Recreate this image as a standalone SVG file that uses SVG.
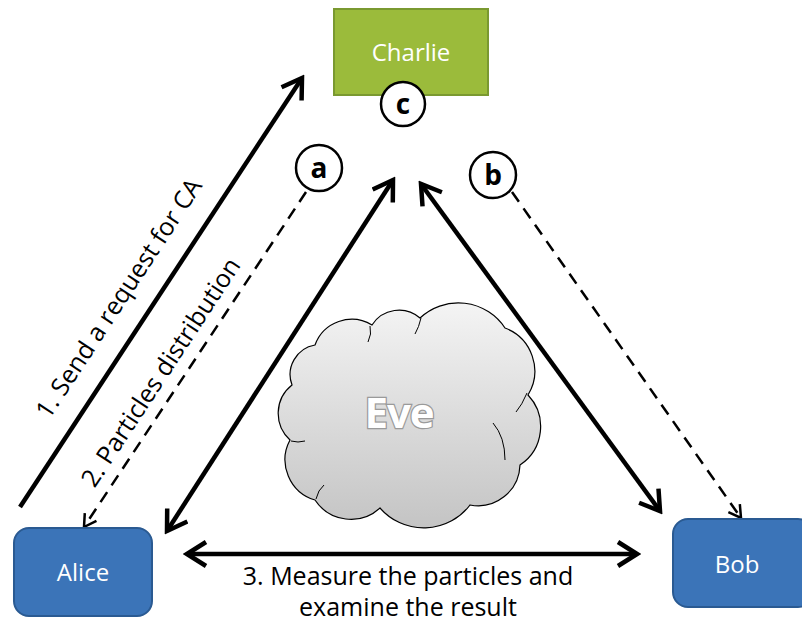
<svg xmlns="http://www.w3.org/2000/svg" width="802" height="625" viewBox="0 0 802 625">
<style>
  .lbl { font-family: "Open Sans", "Liberation Sans", sans-serif; font-size: 25px; fill: #000; }
  .nodetxt { font-family: "Open Sans", "Liberation Sans", sans-serif; font-size: 24px; fill: #fff; text-anchor: middle; }
  .circ { fill: #fff; stroke: #000; stroke-width: 2.5; }
  .ctxt { font-family: "Open Sans", "Liberation Sans", sans-serif; font-size: 28px; font-weight: bold; fill: #000; text-anchor: middle; }
  .solid { stroke: #000; stroke-width: 4.5; fill: none; }
  .dash { stroke: #000; stroke-width: 2.5; fill: none; stroke-dasharray: 12 8; }
</style>
<defs>
  <marker id="ah" markerUnits="userSpaceOnUse" viewBox="0 0 26 28" refX="22" refY="14" markerWidth="26" markerHeight="28" orient="auto-start-reverse">
    <path d="M3,2 L22,14 L3,26" fill="none" stroke="#000" stroke-width="4.5" stroke-dasharray="none"/>
  </marker>
  <marker id="ahd" markerUnits="userSpaceOnUse" viewBox="0 0 16 18" refX="14" refY="9" markerWidth="16" markerHeight="18" orient="auto">
    <path d="M2,2 L14,9 L2,16" fill="none" stroke="#000" stroke-width="2.5" stroke-dasharray="none"/>
  </marker>
  <linearGradient id="cloudg" x1="0" y1="0" x2="0" y2="1">
    <stop offset="0" stop-color="#f4f4f4"/>
    <stop offset="1" stop-color="#c4c4c4"/>
  </linearGradient>
</defs>

<g id="connectors">
  <line class="solid" x1="20" y1="507" x2="302" y2="78" marker-end="url(#ah)"/>
  <line class="dash" x1="306" y1="192" x2="84" y2="527" marker-end="url(#ahd)"/>
  <line class="solid" x1="167" y1="531" x2="393" y2="180" marker-start="url(#ah)" marker-end="url(#ah)"/>
  <line class="solid" x1="421" y1="184" x2="660" y2="511" marker-start="url(#ah)" marker-end="url(#ah)"/>
  <line class="dash" x1="512" y1="192" x2="741" y2="518" marker-end="url(#ahd)"/>
  <line class="solid" x1="187" y1="554" x2="637" y2="554" marker-start="url(#ah)" marker-end="url(#ah)"/>
  <text class="lbl" text-anchor="middle" transform="translate(126,303) rotate(-56.7)">1. Send a request for CA</text>
  <text class="lbl" text-anchor="middle" transform="translate(168,377) rotate(-56.7)">2. Particles distribution</text>
  <text class="lbl" text-anchor="middle" x="408" y="585">3. Measure the particles and</text>
  <text class="lbl" text-anchor="middle" x="408" y="616">examine the result</text>
</g>

<g id="eve">
  <path d="M292,385 A30,30 0 0 1 315,345 A39,39 0 0 1 372,325 A32,32 0 0 1 420,318 A56,56 0 0 1 505,328 A46,46 0 0 1 528,395 A46,46 0 0 1 520,465 A42,42 0 0 1 470,505 A58,58 0 0 1 380,508 A43,43 0 0 1 315,500 A42,42 0 0 1 290,440 A36,36 0 0 1 292,385 Z" fill="url(#cloudg)" stroke="#000" stroke-width="1.2"/>
  <g fill="none" stroke="#000" stroke-width="1">
    <path d="M370,326 Q372,334 368,342"/>
    <path d="M421,318 Q419,327 415,334"/>
    <path d="M527,393 Q522,405 516,412"/>
    <path d="M493,423 Q505,437 505,460"/>
    <path d="M316,499 Q318,490 324,485"/>
    <path d="M291,441 Q298,443 305,441"/>
  </g>
  <text x="399" y="428" text-anchor="middle" font-family="Open Sans, Liberation Sans, sans-serif" font-size="42" font-weight="bold" fill="#fff" stroke="#9a9a9a" stroke-width="2.5" paint-order="stroke" letter-spacing="-1">Eve</text>
</g>

<g id="charlie">
  <rect x="334" y="9" width="154" height="86" fill="#9BBB3B" stroke="#7A9930" stroke-width="2"/>
  <text class="nodetxt" x="411" y="61">Charlie</text>
</g>

<g id="circle-c">
  <circle class="circ" cx="403" cy="104" r="22"/>
  <text class="ctxt" x="403" y="114">c</text>
</g>
<g id="circle-a">
  <circle class="circ" cx="319" cy="168" r="23"/>
  <text class="ctxt" x="319" y="178">a</text>
</g>
<g id="circle-b">
  <circle class="circ" cx="493" cy="175" r="23"/>
  <text class="ctxt" x="493" y="185">b</text>
</g>

<g id="alice">
  <rect x="14" y="528" width="138" height="88" rx="15" fill="#3B74B8" stroke="#2A5A92" stroke-width="2"/>
  <text class="nodetxt" x="83" y="581">Alice</text>
</g>

<g id="bob">
  <rect x="673" y="519" width="140" height="88" rx="15" fill="#3B74B8" stroke="#2A5A92" stroke-width="2"/>
  <text class="nodetxt" x="737" y="573">Bob</text>
</g>
</svg>
